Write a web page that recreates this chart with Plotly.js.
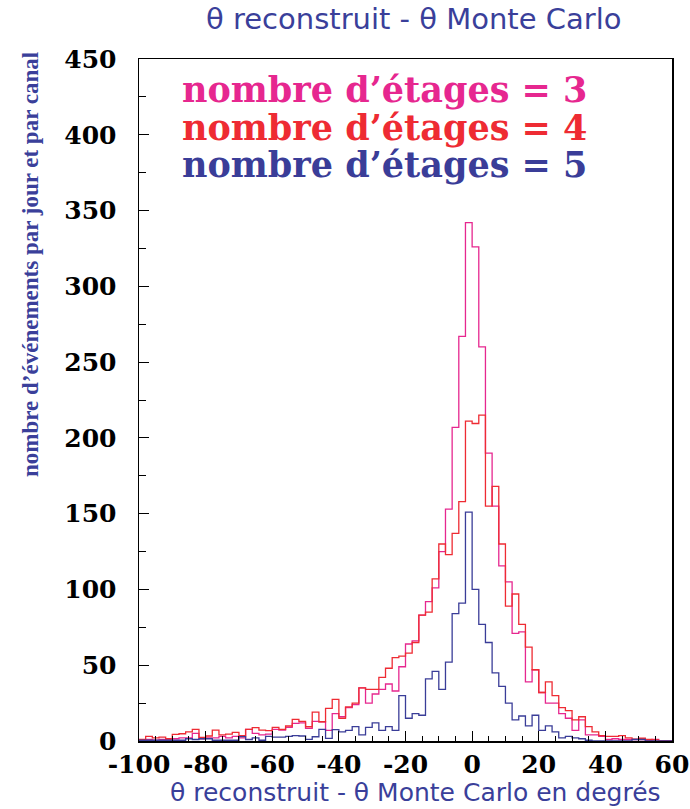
<!DOCTYPE html>
<html>
<head>
<meta charset="utf-8">
<script src="https://cdn.plot.ly/plotly-3.0.1.min.js"></script>
<style>
  html, body { margin: 0; padding: 0; background: #ffffff; }
  #chart { width: 690px; height: 809px; }
</style>
</head>
<body>
<div id="chart"></div>
<script>
// Histogram binning: 80 bins of 2 degrees from -100 to 60
const binStart = -100;
const binWidth = 2;

// nombre d'étages = 3 (magenta)
const counts3 = [
  0.5, 1, 0.5, 1, 1, 1.5, 2, 2, 5, 1.5,
  2, 2, 3, 2, 3, 2, 7.7, 5, 4, 4.6,
  7.7, 7.2, 9, 11.6, 12, 8.3, 13, 12.7, 7, 18,
  16, 22, 24, 35, 25, 31, 34, 37.6, 33, 49,
  64, 66, 83, 92, 101, 125, 153, 207, 267, 342,
  326, 260, 190, 155, 115.5, 105, 71, 72, 39, 47,
  32, 25, 25, 18, 15, 7, 14, 4, 4, 3,
  1, 1.5, 1, 1, 1, 1, 0.5, 1, 0, 0
];

// nombre d'étages = 4 (red)
const counts4 = [
  1, 3, 2, 2.5, 1.5, 4.4, 4.8, 6, 7.7, 2.4,
  3.3, 7.2, 4, 4.6, 5.7, 3.5, 7.7, 8.8, 7.2, 6.8,
  9, 7.7, 9.9, 14.3, 13, 9.4, 19, 12.7, 21.5, 27.5,
  15, 22.5, 25, 35, 34, 34, 42, 48, 55, 56,
  58, 65, 83, 85, 107, 130, 123, 137, 158, 211,
  209.5, 215, 155, 168, 130, 89, 97, 77, 62, 47,
  32, 39, 30, 22, 20, 14, 16, 9.5, 6, 3.6,
  3, 3, 3.6, 2, 1.2, 1.8, 1, 0.7, 0, 0
];

// nombre d'étages = 5 (blue)
const counts5 = [
  0.5, 0.5, 0.5, 0.5, 0.5, 0.5, 0.5, 1.5, 1, 1.5,
  1.5, 0.5, 0.5, 0.5, 0.5, 2.9, 1, 2, 0.5, 3,
  2.5, 2.5, 3, 3.5, 3.3, 1.1, 2.8, 7.7, 1.7, 7.5,
  6, 7, 9.5, 4, 9, 12, 7, 9.5, 7, 30,
  15, 18, 17, 41, 46, 34, 52, 84, 91, 151,
  100, 77, 65, 45, 36, 25, 14, 16.5, 10, 17,
  7, 10, 6, 2, 3, 2, 1.5, 0.5, 0, 0,
  0, 0, 0, 0, 1, 1, 0, 0, 0, 0
];

const seriesLabels = ["nombre d’étages = 3", "nombre d’étages = 4", "nombre d’étages = 5"];
const seriesColors = ["#e6278f", "#ee2b33", "#3a3d98"];

const xTickVals = [-100, -80, -60, -40, -20, 0, 20, 40, 60];
const xTickLabels = ["-100", "-80", "-60", "-40", "-20", "0", "20", "40", "60"];
const yTickVals = [0, 50, 100, 150, 200, 250, 300, 350, 400, 450];
const yTickLabels = ["0", "50", "100", "150", "200", "250", "300", "350", "400", "450"];

const titleText = "θ reconstruit - θ Monte Carlo";
const xTitleText = "θ reconstruit - θ Monte Carlo en degrés";
const yTitleText = "nombre d’événements par jour et par canal";

function stepTrace(counts, color) {
  const x = [binStart];
  const y = [0];
  for (let i = 0; i < counts.length; i++) {
    x.push(binStart + i * binWidth);
    y.push(counts[i]);
  }
  x.push(binStart + counts.length * binWidth);
  y.push(0);
  return {
    type: 'scatter', mode: 'lines', x: x, y: y,
    line: { shape: 'hv', color: color, width: 1.3 },
    hoverinfo: 'skip', showlegend: false
  };
}

const data = [
  stepTrace(counts3, seriesColors[0]),
  stepTrace(counts4, seriesColors[1]),
  stepTrace(counts5, seriesColors[2])
];

const tickFont = { family: 'DejaVu Serif', size: 25, color: '#000000', weight: 'bold' };
const titleBlue = '#3a3f9a';

const legendY = [0.955, 0.9, 0.845];
const annotations = [
  { text: titleText, xref: 'paper', yref: 'paper', x: 0.516, y: 1.058,
    xanchor: 'center', yanchor: 'middle', showarrow: false,
    font: { family: 'DejaVu Sans', size: 29, color: titleBlue } },
  { text: xTitleText, xref: 'paper', yref: 'paper', x: 0.518, y: -0.076,
    xanchor: 'center', yanchor: 'middle', showarrow: false,
    font: { family: 'DejaVu Sans', size: 25, color: titleBlue } },
  { text: yTitleText, xref: 'paper', yref: 'paper', x: -0.2026, y: 0.698,
    xanchor: 'center', yanchor: 'middle', showarrow: false, textangle: -90,
    font: { family: 'Liberation Serif', size: 23, color: titleBlue, weight: 'bold' } }
];
for (let k = 0; k < seriesLabels.length; k++) {
  annotations.push({
    text: seriesLabels[k], xref: 'paper', yref: 'paper', x: 0.077, y: legendY[k],
    xanchor: 'left', yanchor: 'middle', showarrow: false,
    font: { family: 'DejaVu Serif', size: 35, color: seriesColors[k], weight: 'bold' }
  });
}

const layout = {
  width: 690, height: 809,
  margin: { l: 139, r: 18, t: 59, b: 68 },
  paper_bgcolor: '#ffffff', plot_bgcolor: '#ffffff',
  showlegend: false,
  xaxis: {
    range: [-100, 60], tickmode: 'array', tickvals: xTickVals, ticktext: xTickLabels,
    ticks: 'inside', ticklen: 10, tickwidth: 1, tickcolor: '#000000',
    minor: { tickmode: 'linear', tick0: 0, dtick: 5, ticks: 'inside', ticklen: 5, tickcolor: '#000000', tickwidth: 1, showgrid: false },
    showgrid: false, zeroline: false, showline: true, mirror: true, linecolor: '#000000', linewidth: 1.5,
    tickfont: tickFont, ticklabelstandoff: 0, fixedrange: true
  },
  yaxis: {
    range: [0, 450], tickmode: 'array', tickvals: yTickVals, ticktext: yTickLabels,
    ticks: 'inside', ticklen: 10, tickwidth: 1, tickcolor: '#000000',
    minor: { tickmode: 'linear', tick0: 0, dtick: 25, ticks: 'inside', ticklen: 7, tickcolor: '#000000', tickwidth: 1, showgrid: false },
    showgrid: false, zeroline: false, showline: true, mirror: true, linecolor: '#000000', linewidth: 1.5,
    tickfont: tickFont, ticklabelstandoff: 16, fixedrange: true
  },
  annotations: annotations
};

Plotly.newPlot('chart', data, layout, { displayModeBar: false, staticPlot: true });
</script>
</body>
</html>
